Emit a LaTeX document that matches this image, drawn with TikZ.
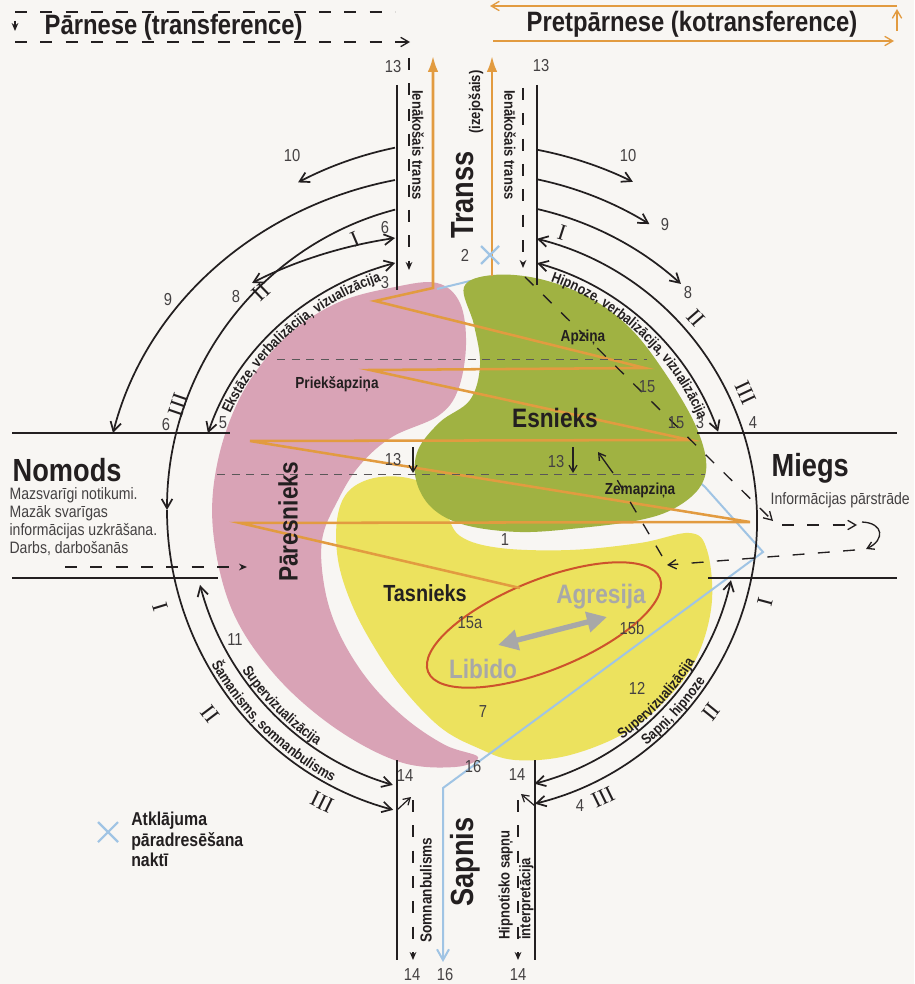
\documentclass[tikz,border=0pt]{standalone}
\usepackage{fontspec}
\setmainfont{Liberation Sans}[FakeStretch=0.85]
\newfontfamily\romfont{Liberation Serif}
\usetikzlibrary{arrows.meta,decorations.text}

\definecolor{paper}{RGB}{248,246,243}
\definecolor{ink}{RGB}{35,31,32}
\definecolor{pinkblob}{RGB}{217,163,182}
\definecolor{greenblob}{RGB}{160,178,66}
\definecolor{yellowblob}{RGB}{236,226,94}
\definecolor{orangeline}{RGB}{226,155,64}
\definecolor{redring}{RGB}{205,82,44}
\definecolor{nightblue}{RGB}{160,196,228}
\definecolor{greyword}{RGB}{168,168,168}

\newcommand{\arcfont}{\color{ink}\bfseries\fontsize{11}{11}\selectfont}

\begin{document}
\begin{tikzpicture}[x=0.75pt, y=-0.75pt,
    line/.style={ink, line width=1.3pt},
    arr/.style={line, -{Straight Barb[length=7pt,width=8pt]}},
    darr/.style={line, {Straight Barb[length=7pt,width=8pt]}-{Straight Barb[length=7pt,width=8pt]}},
    chanline/.style={ink, line width=1pt},
    dashline/.style={ink, line width=1pt, dash pattern=on 9pt off 10pt},
    dashtip/.style={-{Stealth[length=6pt,width=5pt]}},
    guide/.style={ink!75, line width=0.6pt, dash pattern=on 6pt off 5pt},
    zig/.style={orangeline, line width=1.9pt},
    num/.style={font=\fontsize{13}{13}\selectfont, text=ink!85},
    roman/.style={font=\romfont\fontsize{17}{17}\selectfont, text=ink},
    big/.style={font=\bfseries\fontsize{24}{24}\selectfont, text=ink},
    blobname/.style={font=\bfseries\fontsize{20}{20}\selectfont, text=ink},
    layer/.style={font=\bfseries\fontsize{12}{12}\selectfont, text=ink},
    chan/.style={font=\bfseries\fontsize{11.5}{11.5}\selectfont, text=ink},
    desc/.style={font=\fontsize{12.4}{13.6}\selectfont, text=ink!85, align=left},
    title/.style={font=\bfseries\fontsize{21}{21}\selectfont, text=ink},
    onarc/.style={decorate, decoration={text along path, text align=center, text={#1}}}
]
\path[use as bounding box, fill=paper] (0,0) rectangle (914,984);

\coordinate (L) at (470,510);
\coordinate (R) at (466,521);

% blobs
\fill[pinkblob] plot[smooth cycle, tension=0.6] coordinates {(395,287) (437,283) (460,303) (466,345) (458,390) (438,416) (392,437) (360,465) (338,500) (322,540) (325,590) (340,635) (368,680) (405,718) (445,745) (478,757) (455,767) (400,762) (335,728) (275,675) (232,610) (213,530) (218,460) (243,392) (285,338) (337,303)};
\fill[yellowblob] plot[smooth cycle, tension=0.6] coordinates {(337,520) (347,493) (370,479) (402,477) (430,487) (445,510) (460,536) (500,548) (570,550) (640,543) (690,533) (707,550) (712,600) (700,650) (675,690) (630,730) (570,755) (515,760) (478,748) (440,727) (400,685) (370,640) (350,600) (338,560)};
\draw[nightblue, line width=1.5pt, -{Straight Barb[length=8pt,width=9pt]}] (437,289) -- (470,281) -- (705,487) -- (763,552) -- (443,788) -- (443,962);
\fill[greenblob] plot[smooth cycle, tension=0.6] coordinates {(464,287) (493,275) (540,279) (590,298) (630,328) (663,370) (693,420) (706,460) (700,487) (675,508) (640,520) (580,528) (520,532) (465,525) (432,508) (416,480) (418,450) (440,422) (470,400) (480,365) (474,325)};

% Tasnieks core
\draw[redring, line width=1.5pt, rotate around={22:(544,625)}] (544,625) ellipse[x radius=125, y radius=45];
\draw[greyword, line width=4pt, {Triangle[length=15pt,width=15pt]}-{Triangle[length=15pt,width=15pt]}] (498,645) -- (607,617);

% trance zigzag
\draw[zig, -{Latex[length=12pt,width=8pt]}] (520,588) -- (240,523) -- (750,522) -- (250,441) -- (690,440) -- (370,370) -- (645,368) -- (375,301) -- (433,288) -- (433,56);
\draw[zig, -{Latex[length=12pt,width=8pt]}] (492,276) -- (492,56);

% layer borders
\draw[guide] (277,359) -- (647,359);
\draw[guide] (217,474) -- (705,474);
\draw[line, line width=0.9pt, -{Straight Barb[length=5pt,width=6pt]}] (413,447) -- (413,473);
\draw[line, line width=0.9pt, -{Straight Barb[length=5pt,width=6pt]}] (573,447) -- (573,473);

% legends
\draw[dashline] (15,12) -- (395,12);
\draw[line, line width=0.9pt, dashtip] (15,21) -- (15,31);
\draw[dashline, -{Straight Barb[length=6pt,width=7pt]}] (15,42) -- (410,42);
\node[title, anchor=west] (parnese) at (40,27) {Pārnese (transference)};
\draw[orangeline, line width=1pt, -{Straight Barb[length=6pt,width=7pt]}] (897,6) -- (490,6);
\draw[orangeline, line width=1pt, -{Straight Barb[length=6pt,width=7pt]}] (897,31) -- (897,9);
\draw[orangeline, line width=1pt, -{Straight Barb[length=6pt,width=7pt]}] (493,41) -- (894,41);
\node[title, anchor=west] (pretparnese) at (522,24) {Pretpārnese (kotransference)};

% channels
\draw[chanline] (397,85) -- (397,290);
\draw[dashline, dashtip] (409,58) -- (409,270);
\draw[chanline] (537,85) -- (537,285);
\draw[dashline, dashtip] (523,88) -- (523,268);
\draw[chanline] (397,760) -- (397,960);
\draw[dashline, dashtip] (413,800) -- (413,960);
\draw[chanline] (535,760) -- (535,960);
\draw[dashline, dashtip] (518,800) -- (518,960);
\draw[line, line width=0.9pt, -{Straight Barb[length=5pt,width=6pt]}] (397,810) -- (411,797);
\draw[line, line width=0.9pt, -{Straight Barb[length=5pt,width=6pt]}] (535,806) -- (521,794);

% sleep loop
\draw[dashline, -{Straight Barb[length=6pt,width=7pt]}] (525,277) -- (773,521);
\draw[dashline, -{Straight Barb[length=6pt,width=7pt]}] (782,525) -- (857,525);
\draw[line, line width=1pt, -{Straight Barb[length=5pt,width=6pt]}] (862,522) .. controls (884,523) and (885,540) .. (866,549);
\draw[dashline, -{Straight Barb[length=6pt,width=7pt]}] (855,550) -- (667,565);
\draw[dashline] (662,556) -- (616,478);
\draw[line, line width=1pt, -{Straight Barb[length=5pt,width=6pt]}] (613,473) -- (598,452);
\draw[dashline, dashtip] (65,567) -- (247,567);

% horizon lines
\draw[chanline] (12,433) -- (230,433);
\draw[chanline] (697,433) -- (897,433);
\draw[chanline] (12,578) -- (218,578);
\draw[chanline] (708,578) -- (897,578);

% left arcs
\draw[arr] ([shift={(258.3:370)}]L) arc[start angle=258.3, end angle=242.3, radius=370];
\draw[arr] ([shift={(258.2:366.7 and 337.1)}]L) arc[start angle=258.2, end angle=193.2, x radius=366.7, y radius=337.1];
\draw[arr] ([shift={(255.7:303 and 310)}]L) arc[start angle=255.7, end angle=180, x radius=303, y radius=310];
\draw[arr] ([shift={(180:303 and 310)}]L) arc[start angle=180, end angle=104.7, x radius=303, y radius=310];
\draw[darr] ([shift={(258.6:379 and 277.5)}]L) arc[start angle=258.6, end angle=234.9, x radius=379, y radius=277.5];
\draw[darr] ([shift={(254.2:274.6 and 256.8)}]L) arc[start angle=254.2, end angle=197.4, x radius=274.6, y radius=256.8];
\draw[darr] ([shift={(164.8:279.8 and 286)}]L) arc[start angle=164.8, end angle=106, x radius=279.8, y radius=286];

% right arcs
\draw[arr] ([shift={(-79.2:378)}]R) arc[start angle=-79.2, end angle=-63.8, radius=378];
\draw[arr] ([shift={(-78.2:349)}]R) arc[start angle=-78.2, end angle=-58.3, radius=349];
\draw[arr] ([shift={(-77.1:320)}]R) arc[start angle=-77.1, end angle=-47.8, radius=320];
\draw[darr] ([shift={(-75.9:291)}]R) arc[start angle=-75.9, end angle=76.3, radius=291];
\draw[darr] ([shift={(-74.6:267.5)}]R) arc[start angle=-74.6, end angle=-19.5, radius=267.5];
\draw[darr] ([shift={(12.6:271.5)}]R) arc[start angle=12.6, end angle=75.4, radius=271.5];

% texts on arcs
\path[onarc={|\arcfont|Ekstāze, verbalizācija, vizualizācija}] ([shift={(195:261 and 243)}]L) arc[start angle=195, end angle=258, x radius=261, y radius=243];
\path[onarc={|\arcfont|Hipnoze, verbalizācija, vizualizācija}] ([shift={(-76:254)}]R) arc[start angle=-76, end angle=-18, radius=254];
\path[onarc={|\arcfont|Supervizualizācija}] ([shift={(157:276.5 and 283)}]L) arc[start angle=157, end angle=112, x radius=276.5, y radius=283];
\path[onarc={|\arcfont|Šamanisms, somnanbulisms}] ([shift={(160:299.5 and 306.5)}]L) arc[start angle=160, end angle=107, x radius=299.5, y radius=306.5];
\path[onarc={|\arcfont|Supervizualizācija}] ([shift={(66:268.5)}]R) arc[start angle=66, end angle=20, radius=268.5];
\path[onarc={|\arcfont|Sapņi, hipnoze}] ([shift={(62:288)}]R) arc[start angle=62, end angle=23, radius=288];

% crosses
\draw[nightblue, line width=1.6pt] (481,246) -- (499,264) (481,264) -- (499,246);
\draw[nightblue, line width=1.6pt] (98,822) -- (118,842) (98,842) -- (118,822);

% roman numerals
\node[roman, rotate=23] (rI) at (355,239) {I};
\node[roman, rotate=44] (rII) at (261,292) {II};
\node[roman, rotate=71] (rIII) at (178,405) {III};
\node[roman, rotate=-73] (rIb) at (160,607) {I};
\node[roman, rotate=-53] (rIIb) at (210,714) {II};
\node[roman, rotate=-26] (rIIIb) at (322,802) {III};
\node[roman, rotate=-18] (qI) at (562,233) {I};
\node[roman, rotate=-49] (qII) at (696,318) {II};
\node[roman, rotate=-65] (qIII) at (746,393) {III};
\node[roman, rotate=75] (qIb) at (765,602) {I};
\node[roman, rotate=51] (qIIb) at (711,712) {II};
\node[roman, rotate=26] (qIIIb) at (603,797) {III};

% numbers
\node[num] (n13a) at (393,67) {13};
\node[num] (n13b) at (541,66) {13};
\node[num] (n10a) at (292,156) {10};
\node[num] (n10b) at (628,156) {10};
\node[num] (n9a) at (168,300) {9};
\node[num] (n9b) at (665,225) {9};
\node[num] (n8a) at (236,297) {8};
\node[num] (n8b) at (688,293) {8};
\node[num] (n6a) at (385,228) {6};
\node[num] (n3a) at (385,283) {3};
\node[num] (n2) at (465,255) {2};
\node[num] (n6b) at (166,425) {6};
\node[num] (n5) at (223,423) {5};
\node[num] (n3b) at (700,423) {3};
\node[num] (n4a) at (753,423) {4};
\node[num] (n15a) at (647,387) {15};
\node[num] (n15b) at (676,423) {15};
\node[num] (n13c) at (393,460) {13};
\node[num] (n13d) at (556,462) {13};
\node[num] (n1) at (505,540) {1};
\node[num] (n15c) at (470,623) {15a};
\node[num] (n15d) at (632,628) {15b};
\node[num] (n7) at (483,712) {7};
\node[num] (n11) at (235,640) {11};
\node[num] (n12) at (637,688) {12};
\node[num] (n16a) at (473,767) {16};
\node[num] (n14a) at (405,776) {14};
\node[num] (n14b) at (517,775) {14};
\node[num] (n4b) at (580,806) {4};
\node[num] (n14c) at (412,975) {14};
\node[num] (n16b) at (445,975) {16};
\node[num] (n14d) at (518,975) {14};

% names
\node[chan, rotate=-90] (ienakL) at (418,145) {Ienākošais transs};
\node[chan, rotate=-90] (ienakR) at (510,145) {Ienākošais transs};
\node[big, rotate=90] (transs) at (463,195) {Transs};
\node[chan, rotate=90] (izej) at (476,102) {(izejošais)};
\node[big, anchor=west] (nomods) at (8,470) {Nomods};
\node[desc, anchor=north west, inner sep=1pt] (nomodsdesc) at (8,486) {Mazsvarīgi notikumi.\\Mazāk svarīgas\\informācijas uzkrāšana.\\Darbs, darbošanās};
\node[big, anchor=west] (miegs) at (767,468) {Miegs};
\node[desc, anchor=west] (miegsdesc) at (766,500) {Informācijas pārstrāde};
\node[blobname] (esnieks) at (555,418) {Esnieks};
\node[blobname, font=\bfseries\fontsize{17.5}{17.5}\selectfont] (tasnieks) at (425,593) {Tasnieks};
\node[blobname, rotate=90] (paresnieks) at (288,522) {Pāresnieks};
\node[layer] (apzina) at (583,337) {Apziņa};
\node[layer] (priekš) at (337,384) {Priekšapziņa};
\node[layer] (zemapzina) at (640,490) {Zemapziņa};
\node[blobname, text=greyword] (agresija) at (601,597) {Agresija};
\node[blobname, text=greyword] (libido) at (483,669) {Libido};
\node[font=\bfseries\fontsize{14}{15.4}\selectfont, text=ink, align=left, anchor=north west, inner sep=0pt] (atklajuma) at (131,812) {Atklājuma\\pāradresēšana\\naktī};
\node[chan, font=\bfseries\fontsize{12}{12}\selectfont, rotate=90] (somn) at (426,890) {Somnanbulisms};
\node[big, rotate=90] (sapnis) at (465,862) {Sapnis};
\node[chan, font=\bfseries\fontsize{11.5}{15.5}\selectfont, rotate=90, align=left] (hipnot) at (516,885) {Hipnotisko sapņu\\interpretācija};

\end{tikzpicture}
\end{document}
